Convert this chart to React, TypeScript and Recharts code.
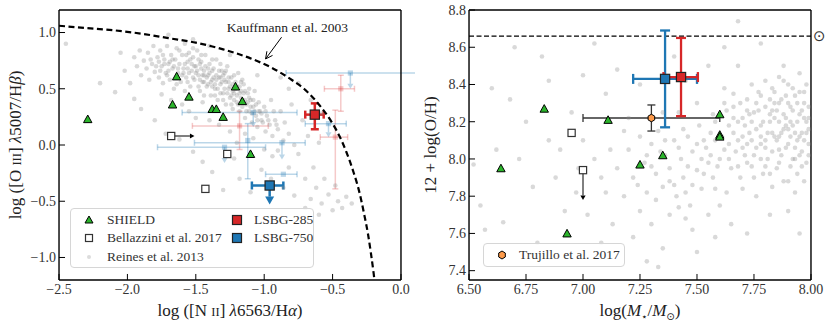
import React from 'react';
import { ScatterChart, Scatter, XAxis, YAxis, ErrorBar, ReferenceLine, Legend } from 'recharts';

const FONT = '"Liberation Serif", "DejaVu Serif", serif';
const SYM = '"DejaVu Sans", "DejaVu Serif", sans-serif';
const RED = '#d62728';
const BLUE = '#1f77b4';
const GREEN = '#2bb52b';
const ORANGE = '#fd9a4a';
const GRAYDOT = '#8c8c8c';
const FAINT_RED = 'rgba(214,39,40,0.25)';
const FAINT_BLUE = 'rgba(31,119,180,0.3)';

// ================= Left panel: BPT diagram =================
const bptXDomain = [-2.5, 0];
const bptYDomain = [-1.2, 1.2];
const bptXTicks = [-2.5, -2.0, -1.5, -1.0, -0.5, 0.0];
const bptXMinor = [-2.4, -2.3, -2.2, -2.1, -1.9, -1.8, -1.7, -1.6, -1.4, -1.3, -1.2, -1.1, -0.9, -0.8, -0.7, -0.6, -0.4, -0.3, -0.2, -0.1];
const bptYTicks = [-1.0, -0.5, 0.0, 0.5, 1.0];
const bptYMinor = [-1.1, -0.9, -0.8, -0.7, -0.6, -0.4, -0.3, -0.2, -0.1, 0.1, 0.2, 0.3, 0.4, 0.6, 0.7, 0.8, 0.9, 1.1];

const reinesBpt: number[][] = [
  [-1.95, 0.78], [-1.93, 0.70], [-1.91, 0.84], [-1.90, 0.62], [-1.88, 0.75], [-1.86, 0.68], [-1.85, 0.82], [-1.84, 0.58],
  [-1.82, 0.72], [-1.81, 0.88], [-1.80, 0.65], [-1.78, 0.78], [-1.77, 0.60], [-1.76, 0.84], [-1.75, 0.70], [-1.74, 0.55],
  [-1.73, 0.76], [-1.72, 0.64], [-1.71, 0.88], [-1.70, 0.72], [-1.69, 0.58], [-1.68, 0.80], [-1.67, 0.68], [-1.66, 0.50],
  [-1.65, 0.76], [-1.64, 0.86], [-1.63, 0.64], [-1.62, 0.72], [-1.61, 0.56], [-1.60, 0.80], [-1.59, 0.68], [-1.58, 0.90],
  [-1.57, 0.60], [-1.56, 0.74], [-1.55, 0.82], [-1.54, 0.52], [-1.53, 0.66], [-1.52, 0.78], [-1.51, 0.58], [-1.50, 0.70],
  [-1.49, 0.84], [-1.48, 0.62], [-1.47, 0.48], [-1.46, 0.74], [-1.45, 0.56], [-1.44, 0.66], [-1.43, 0.80], [-1.42, 0.52],
  [-1.41, 0.62], [-1.40, 0.72], [-1.39, 0.44], [-1.38, 0.58], [-1.37, 0.68], [-1.36, 0.50], [-1.35, 0.76], [-1.34, 0.40],
  [-1.33, 0.60], [-1.32, 0.54], [-1.31, 0.66], [-1.30, 0.46], [-1.29, 0.58], [-1.28, 0.36], [-1.27, 0.70], [-1.26, 0.50],
  [-1.25, 0.42], [-1.24, 0.60], [-1.23, 0.32], [-1.22, 0.46], [-1.21, 0.56], [-1.20, 0.38], [-1.19, 0.64], [-1.18, 0.30],
  [-1.17, 0.48], [-1.16, 0.40], [-1.15, 0.54], [-1.14, 0.24], [-1.13, 0.36], [-1.12, 0.46], [-1.11, 0.30], [-1.10, 0.40],
  [-1.09, 0.20], [-1.08, 0.34], [-1.07, 0.48], [-1.06, 0.26], [-1.05, 0.16], [-1.04, 0.38], [-1.03, 0.30], [-1.02, 0.22],
  [-1.00, 0.34], [-0.99, 0.12], [-0.98, 0.26], [-0.96, 0.18], [-0.95, 0.40], [-0.94, 0.08], [-0.92, 0.22], [-0.90, 0.14],
  [-0.88, 0.30], [-0.86, 0.04], [-0.85, 0.20], [-0.82, 0.10], [-0.80, 0.36], [-0.78, 0.00],
  [-1.83, 0.76], [-1.79, 0.70], [-1.76, 0.66], [-1.74, 0.80], [-1.71, 0.62], [-1.69, 0.74], [-1.66, 0.70], [-1.64, 0.60],
  [-1.62, 0.84], [-1.60, 0.62], [-1.58, 0.72], [-1.57, 0.80], [-1.55, 0.64], [-1.54, 0.76], [-1.52, 0.60], [-1.51, 0.70],
  [-1.49, 0.66], [-1.48, 0.76], [-1.47, 0.58], [-1.46, 0.68], [-1.45, 0.62], [-1.44, 0.56], [-1.43, 0.70], [-1.42, 0.60],
  [-1.41, 0.54], [-1.40, 0.64], [-1.39, 0.56], [-1.38, 0.66], [-1.37, 0.60], [-1.36, 0.54], [-1.35, 0.62], [-1.34, 0.50],
  [-1.33, 0.66], [-1.32, 0.46], [-1.31, 0.56], [-1.30, 0.62], [-1.29, 0.50], [-1.28, 0.56], [-1.27, 0.46], [-1.26, 0.60],
  [-1.25, 0.52], [-1.24, 0.44], [-1.23, 0.54], [-1.22, 0.40], [-1.21, 0.50], [-1.20, 0.44], [-1.19, 0.36], [-1.18, 0.52],
  [-1.17, 0.42], [-1.16, 0.34], [-1.15, 0.46], [-1.14, 0.40], [-1.13, 0.30], [-1.12, 0.38], [-1.11, 0.42], [-1.10, 0.34],
  [-1.09, 0.28], [-1.08, 0.40], [-1.07, 0.30], [-1.06, 0.36], [-1.05, 0.22], [-1.04, 0.30], [-1.02, 0.28], [-1.01, 0.20],
  [-0.99, 0.30], [-0.97, 0.22], [-0.93, 0.30], [-0.91, 0.18], [-1.70, 0.66], [-1.73, 0.72], [-1.77, 0.74], [-1.67, 0.76],
  [-1.63, 0.68], [-1.59, 0.64], [-1.56, 0.68], [-1.53, 0.72], [-1.50, 0.64], [-1.47, 0.72], [-1.44, 0.62], [-1.41, 0.68],
  [-1.38, 0.52], [-1.35, 0.58], [-1.32, 0.60], [-1.29, 0.64], [-1.26, 0.56], [-1.23, 0.48], [-1.20, 0.52], [-1.17, 0.56],
  [-1.14, 0.48], [-1.11, 0.50], [-1.44, 0.44], [-1.48, 0.52], [-1.56, 0.56], [-1.64, 0.54], [-1.58, 0.48], [-1.36, 0.44],
  [-1.30, 0.40], [-1.24, 0.36], [-1.18, 0.46], [-1.52, 0.86], [-1.46, 0.80], [-1.38, 0.76], [-1.32, 0.72], [-1.28, 0.66],
  [-1.22, 0.62], [-1.16, 0.58],
  [-1.75, 0.45], [-1.68, 0.40], [-1.60, 0.36], [-1.55, 0.30], [-1.50, 0.24], [-1.45, 0.38], [-1.40, 0.22], [-1.33, 0.18],
  [-1.25, 0.12], [-1.20, 0.02], [-1.14, 0.10], [-1.08, 0.06], [-1.00, -0.04], [-0.94, -0.10],
  [-2.45, 0.90], [-2.20, 0.55], [-2.09, 0.47], [-2.02, 0.66], [-1.98, 0.55], [-1.95, 0.41], [-1.90, 0.32], [-2.05, 0.82],
  [-1.80, 0.22], [-1.72, 0.10], [-1.62, 0.05], [-1.52, -0.06], [-1.45, -0.15], [-1.38, -0.24], [-1.30, -0.40], [-1.22, -0.12],
  [-1.18, -0.30], [-1.10, -0.42], [-1.02, -0.22], [-0.95, -0.30], [-0.90, -0.05], [-0.86, -0.38], [-0.82, -0.20], [-0.78, -0.45],
  [-0.75, -0.08], [-0.72, 0.22], [-0.70, -0.30], [-0.68, 0.08], [-0.66, -0.48], [-0.64, -0.20], [-0.62, -0.38], [-0.60, 0.02],
  [-0.58, -0.52], [-0.56, -0.30], [-0.53, -0.44], [-0.50, -0.58], [-0.48, -0.36], [-0.46, -0.50], [-0.43, -0.56], [-0.40, -0.46],
  [-0.36, -0.52], [-0.75, 0.55], [-0.82, 0.50], [-0.66, 0.40], [-0.58, 0.28], [-0.88, 0.60], [-1.05, 0.62], [-1.40, 0.88],
  [-1.52, 0.94], [-1.70, 0.98], [-1.25, 0.80], [-0.60, -0.62], [-0.70, -0.56],
];

const kauffmannX = [-2.5, -2.3, -2.1, -1.9, -1.7, -1.5, -1.3, -1.1, -0.95, -0.8, -0.7, -0.6, -0.5, -0.45, -0.4, -0.35, -0.3, -0.27, -0.24, -0.22, -0.2, -0.19];
const kauffmannY = [1.06, 1.04, 1.02, 0.99, 0.95, 0.91, 0.85, 0.77, 0.69, 0.58, 0.49, 0.36, 0.19, 0.08, -0.06, -0.23, -0.44, -0.61, -0.80, -0.96, -1.14, -1.24];

const shieldBptX = [-2.29, -1.64, -1.55, -1.67, -1.38, -1.35, -1.30, -1.21, -1.16, -1.10];
const shieldBptY = [0.23, 0.61, 0.43, 0.36, 0.32, 0.32, 0.25, 0.52, 0.39, -0.08];

const bellazziniBptX = [-1.68, -1.27, -1.43];
const bellazziniBptY = [0.08, -0.08, -0.39];
const bellazziniBptArrow = [[-1.68, 0.08], [-1.51, 0.08]];

const lsbg285Bpt = [{ x: -0.63, y: 0.27, ex: [0.07, 0.065], ey: [0.13, 0.1] }];
const lsbg750Bpt = [{ x: -0.96, y: -0.36, ex: [0.13, 0.1] }];
const lsbg750BptArrow = [[-0.96, -0.36], [-0.96, -0.53]];

const litRedBpt = [
  { x: -1.18, y: 0.17, ex: [0.345, 0.21], ey: [0.21, 0.13] },
  { x: -0.44, y: 0.50, ex: [0.12, 0.10], ey: [0.20, 0.12] },
  { x: -0.48, y: 0.07, ex: [0.11, 0.09], ey: [0.46, 0.24] },
];
const litBlueBptX = [
  { x: -0.37, y: 0.64, ex: [0.47, 0.6] },
  { x: -1.08, y: 0.29, ex: [0.52, 0.32] },
  { x: -0.53, y: 0.19, ex: [0.17, 0.13] },
  { x: -1.29, y: -0.02, ex: [0.49, 0.30] },
  { x: -0.87, y: 0.02, ex: [0.64, 0.17] },
  { x: -0.86, y: -0.26, ex: [0.13, 0.10] },
];
const litBlueBptY = [{ x: -1.12, y: 0.04, ey: [0.34, 0.15] }];
const litBlueBptArrows = [
  [[-0.37, 0.64], [-0.37, 0.50]],
  [[-1.08, 0.29], [-1.08, 0.16]],
  [[-0.53, 0.19], [-0.53, 0.07]],
  [[-1.29, -0.02], [-1.29, -0.16]],
  [[-0.87, 0.02], [-0.87, -0.13]],
];

const kauffmannLabel = [{ x: -0.83, y: 1.005 }];
const kauffmannPointer = [[-0.873, 0.958], [-0.99, 0.765]];

// ================= Right panel: mass-metallicity =================
const mzXDomain = [6.5, 8.0];
const mzYDomain = [7.35, 8.8];
const mzXTicks = [6.5, 6.75, 7.0, 7.25, 7.5, 7.75, 8.0];
const mzXMinor = [6.5625, 6.625, 6.6875, 6.8125, 6.875, 6.9375, 7.0625, 7.125, 7.1875, 7.3125, 7.375, 7.4375, 7.5625, 7.625, 7.6875, 7.8125, 7.875, 7.9375];
const mzYTicks = [7.4, 7.6, 7.8, 8.0, 8.2, 8.4, 8.6, 8.8];
const mzYMinor = [7.35, 7.45, 7.5, 7.55, 7.65, 7.7, 7.75, 7.85, 7.9, 7.95, 8.05, 8.1, 8.15, 8.25, 8.3, 8.35, 8.45, 8.5, 8.55, 8.65, 8.7, 8.75];
const solarOH = 8.66;

const reinesMz: number[][] = [
  [7.62, 8.05], [7.64, 8.18], [7.65, 7.95], [7.66, 8.28], [7.68, 8.10], [7.69, 7.90], [7.70, 8.22], [7.71, 8.02],
  [7.72, 8.32], [7.73, 8.14], [7.74, 7.96], [7.75, 8.25], [7.76, 8.06], [7.77, 8.36], [7.78, 8.18], [7.79, 7.92],
  [7.80, 8.28], [7.80, 8.10], [7.81, 8.00], [7.82, 8.20], [7.83, 8.38], [7.84, 8.12], [7.85, 7.95], [7.85, 8.26],
  [7.86, 8.05], [7.87, 8.32], [7.88, 8.16], [7.88, 7.88], [7.89, 8.22], [7.90, 8.08], [7.90, 8.40], [7.91, 8.28],
  [7.92, 8.00], [7.92, 8.18], [7.93, 8.34], [7.94, 8.10], [7.94, 7.92], [7.95, 8.24], [7.96, 8.04], [7.96, 8.14],
  [7.97, 8.36], [7.98, 8.20], [7.98, 7.98], [7.99, 8.28], [7.99, 8.08], [7.86, 8.44], [7.80, 8.42], [7.95, 8.46],
  [7.74, 8.40], [7.70, 7.84], [7.83, 7.85], [7.93, 7.82], [7.66, 8.35], [7.58, 8.20], [7.60, 8.00], [7.57, 7.90],
  [7.63, 7.82], [7.76, 7.80], [7.88, 8.50], [7.97, 7.88], [7.72, 8.08], [7.84, 8.30], [7.90, 8.16], [7.78, 8.00],
  [7.82, 8.24], [7.94, 8.30], [7.68, 8.20], [7.86, 8.20], [7.91, 8.12], [7.87, 8.02], [7.97, 8.22], [7.83, 8.14],
  [7.76, 8.30], [7.99, 8.16], [7.93, 8.06], [7.89, 8.34],
  [7.61, 8.12], [7.63, 8.26], [7.64, 8.00], [7.66, 8.14], [7.67, 8.04], [7.69, 8.30], [7.70, 8.12], [7.71, 8.18],
  [7.72, 7.98], [7.73, 8.24], [7.74, 8.10], [7.75, 8.02], [7.76, 8.16], [7.77, 8.26], [7.78, 8.08], [7.79, 8.20],
  [7.80, 7.96], [7.81, 8.14], [7.82, 8.32], [7.83, 8.04], [7.84, 8.22], [7.85, 8.10], [7.86, 8.30], [7.86, 7.98],
  [7.87, 8.14], [7.88, 8.24], [7.89, 8.06], [7.90, 8.30], [7.91, 7.96], [7.91, 8.20], [7.92, 8.26], [7.93, 8.14],
  [7.94, 8.20], [7.95, 8.02], [7.95, 8.36], [7.96, 8.26], [7.97, 8.10], [7.97, 8.30], [7.98, 8.14], [7.98, 8.40],
  [7.99, 8.02], [7.99, 8.22], [7.92, 8.38], [7.88, 8.42], [7.84, 8.36], [7.78, 8.34], [7.72, 8.26], [7.66, 8.22],
  [7.62, 8.30], [7.68, 7.96], [7.75, 7.90], [7.82, 7.92], [7.90, 7.88], [7.96, 7.96], [7.80, 8.06], [7.86, 8.12],
  [7.93, 8.00], [7.74, 8.20], [7.83, 8.26], [7.89, 8.18], [7.95, 8.12], [7.78, 8.12], [7.70, 8.06], [7.64, 8.08],
  [7.58, 8.10], [7.56, 8.02], [7.59, 7.96], [7.53, 8.10], [7.57, 8.24], [7.62, 8.38],
  [7.20, 8.05], [7.22, 7.90], [7.25, 8.12], [7.27, 7.98], [7.28, 7.82], [7.30, 8.08], [7.32, 7.92], [7.33, 8.15],
  [7.35, 7.85], [7.36, 8.02], [7.38, 7.95], [7.40, 8.10], [7.41, 7.80], [7.43, 8.00], [7.44, 7.90], [7.46, 8.12],
  [7.47, 7.75], [7.48, 8.04], [7.50, 7.94], [7.51, 8.18], [7.52, 7.84], [7.54, 8.06], [7.55, 7.98], [7.56, 8.14],
  [7.45, 7.68], [7.38, 7.70], [7.15, 7.95], [7.12, 8.05], [7.18, 7.80], [7.08, 7.90], [7.05, 8.00], [7.25, 7.72],
  [7.30, 7.65], [7.42, 8.25], [7.50, 8.30], [7.35, 8.25], [7.20, 8.22], [7.55, 7.70], [7.60, 7.75], [7.48, 7.62],
  [7.30, 7.96], [7.34, 8.04], [7.38, 7.88], [7.42, 8.06], [7.46, 7.96], [7.40, 7.86], [7.44, 8.16], [7.50, 8.08],
  [7.53, 7.92], [7.48, 7.86], [7.36, 8.10], [7.28, 8.02], [7.24, 7.86], [7.32, 7.78], [7.45, 7.82], [7.52, 8.00],
  [7.58, 7.84], [7.42, 7.74],
  [6.52, 7.97], [6.55, 7.75], [6.57, 7.62], [6.62, 8.05], [6.60, 8.38], [6.65, 7.66], [6.70, 8.60], [6.72, 8.00],
  [6.75, 8.20], [6.78, 7.85], [6.80, 7.55], [6.82, 8.55], [6.85, 8.42], [6.88, 7.90], [6.90, 8.05], [6.92, 7.72],
  [6.95, 8.25], [6.97, 7.82], [7.00, 8.45], [7.02, 7.70], [7.05, 8.62], [7.08, 7.55], [7.10, 8.35], [7.13, 7.65],
  [7.15, 8.48], [7.18, 8.15], [7.22, 7.58], [7.25, 8.40], [7.28, 7.45], [7.33, 7.42], [7.35, 7.52], [7.40, 8.55],
  [7.45, 8.42], [7.50, 7.50], [7.55, 8.50], [7.58, 7.58], [7.62, 8.60], [7.65, 7.65], [7.68, 8.50], [7.72, 7.60],
  [7.78, 8.62], [7.82, 7.70], [7.90, 7.72], [7.95, 7.60], [7.68, 8.74], [7.10, 7.82], [6.98, 7.95], [6.85, 8.10],
  [7.00, 8.10], [6.68, 8.32],
];

const shieldMzX = [6.64, 6.83, 6.93, 7.11, 7.25, 7.35, 7.60, 7.60, 7.60];
const shieldMzY = [7.95, 8.27, 7.60, 8.21, 7.97, 8.02, 8.24, 8.13, 8.12];

const bellazziniMzX = [6.95, 7.0];
const bellazziniMzY = [8.14, 7.94];
const bellazziniMzArrow = [[7.0, 7.94], [7.0, 7.78]];

const trujilloMz = [{ x: 7.30, y: 8.22, ex: [0.3, 0.3], ey: [0.07, 0.07] }];
const lsbg750Mz = [{ x: 7.36, y: 8.43, ex: [0.14, 0.14], ey: [0.26, 0.26] }];
const lsbg285Mz = [{ x: 7.43, y: 8.44, ex: [0.077, 0.074], ey: [0.21, 0.21] }];

// ================= helpers =================
const toPoints = (xs: number[], ys: number[]) => xs.map((x, i) => ({ x, y: ys[i] }));
const pairsToPoints = (pairs: number[][]) => pairs.map(([x, y]) => ({ x, y }));

const fmt1 = (v: number) => (Math.abs(v) < 1e-9 ? '0.0' : v.toFixed(1)).replace('-', '\u2212');
const fmt2 = (v: number) => v.toFixed(2);

const bottomTick = (fmt: (v: number) => string) => (p: any) => (
  <text x={p.x} y={p.y + 9.5} textAnchor="middle" fontFamily={FONT} fontSize={14} fill="#333">
    {fmt(p.payload && p.payload.value)}
  </text>
);
const leftTick = (fmt: (v: number) => string) => (p: any) => (
  <text x={p.x} y={p.y + 4.8} textAnchor="end" fontFamily={FONT} fontSize={14} fill="#333">
    {fmt(p.payload && p.payload.value)}
  </text>
);
const sunTick = (p: any) => (
  <text x={p.x} y={p.y + 4.5} textAnchor="start" fontFamily={SYM} fontSize={15} fill="#333">
    {'\u2299'}
  </text>
);

const noShape = () => <g />;

const dotShape = (p: any) => <circle cx={p.cx} cy={p.cy} r={2.3} fill={GRAYDOT} fillOpacity={0.33} />;
const triShape = (p: any) => (
  <polygon
    points={`${p.cx},${p.cy - 4.1} ${p.cx - 4.2},${p.cy + 3.5} ${p.cx + 4.2},${p.cy + 3.5}`}
    fill={GREEN} stroke="#000" strokeWidth={1} strokeLinejoin="miter"
  />
);
const squareShape = (half: number, fill: string, stroke: string, sw: number) => (p: any) => (
  <rect x={p.cx - half} y={p.cy - half} width={half * 2} height={half * 2} fill={fill} stroke={stroke} strokeWidth={sw} />
);
const hexShape = (p: any) => {
  const r = 3.8;
  const pts = [0, 1, 2, 3, 4, 5]
    .map((k) => {
      const a = (Math.PI / 3) * k - Math.PI / 2;
      return `${p.cx + r * Math.cos(a)},${p.cy + r * Math.sin(a)}`;
    })
    .join(' ');
  return <polygon points={pts} fill={ORANGE} stroke="#000" strokeWidth={1} />;
};

function arrowLine(color: string, sw: number, headLen: number, headHalf: number, filled: boolean) {
  return (props: any) => {
    const raw = (props && props.points) || [];
    const pts = raw.map((q: any) => ({ x: q.x ?? q.cx, y: q.y ?? q.cy }));
    if (pts.length < 2) return <g />;
    const a = pts[0];
    const b = pts[pts.length - 1];
    const dx = b.x - a.x;
    const dy = b.y - a.y;
    const L = Math.hypot(dx, dy) || 1;
    const ux = dx / L, uy = dy / L, nx = -uy, ny = ux;
    const bx = b.x - ux * headLen, by = b.y - uy * headLen;
    const p1 = `${bx + nx * headHalf},${by + ny * headHalf}`;
    const p2 = `${bx - nx * headHalf},${by - ny * headHalf}`;
    if (filled) {
      return (
        <g>
          <line x1={a.x} y1={a.y} x2={bx} y2={by} stroke={color} strokeWidth={sw} />
          <polygon points={`${b.x},${b.y} ${p1} ${p2}`} fill={color} stroke="none" />
        </g>
      );
    }
    return (
      <g>
        <line x1={a.x} y1={a.y} x2={b.x} y2={b.y} stroke={color} strokeWidth={sw} />
        <polyline points={`${p1} ${b.x},${b.y} ${p2}`} fill="none" stroke={color} strokeWidth={sw} />
      </g>
    );
  };
}

function arrowScatter(key: string, pair: number[][], color: string, sw: number, headLen: number, headHalf: number, filled = true) {
  return (
    <Scatter
      key={key}
      data={pairsToPoints(pair)}
      fill={color}
      line={arrowLine(color, sw, headLen, headHalf, filled)}
      shape={noShape}
      isAnimationActive={false}
    />
  );
}

function frameAxes(c: any) {
  const eps = 0.01;
  const axisLine = { stroke: '#000', strokeWidth: 1.4 };
  const major = { stroke: '#000', strokeWidth: 1 };
  const minor = { stroke: '#000', strokeWidth: 0.8 };
  const base = { type: 'number' as const, allowDataOverflow: true, interval: 0 as const };
  return [
    <XAxis key="xb" {...base} xAxisId={0} dataKey="x" domain={c.xDom} ticks={c.xTicks}
      height={eps} tickSize={-6} tickMargin={11} axisLine={axisLine} tickLine={major} tick={bottomTick(c.xFmt)} label={c.xTitle} />,
    <XAxis key="xbm" {...base} xAxisId="xbm" domain={c.xDom} ticks={c.xMinor}
      height={eps} tickSize={-3.5} tick={false} axisLine={false} tickLine={minor} />,
    <XAxis key="xt" {...base} xAxisId="xt" orientation="top" domain={c.xDom} ticks={c.xTicks}
      height={eps} tickSize={-6} tick={false} axisLine={axisLine} tickLine={major} />,
    <XAxis key="xtm" {...base} xAxisId="xtm" orientation="top" domain={c.xDom} ticks={c.xMinor}
      height={eps} tickSize={-3.5} tick={false} axisLine={false} tickLine={minor} />,
    <YAxis key="yl" {...base} yAxisId={0} dataKey="y" domain={c.yDom} ticks={c.yTicks}
      width={eps} tickSize={-6} tickMargin={9} axisLine={axisLine} tickLine={major} tick={leftTick(c.yFmt)} label={c.yTitle} />,
    <YAxis key="ylm" {...base} yAxisId="ylm" domain={c.yDom} ticks={c.yMinor}
      width={eps} tickSize={-3.5} tick={false} axisLine={false} tickLine={minor} />,
    <YAxis key="yr" {...base} yAxisId="yr" orientation="right" domain={c.yDom} ticks={c.yTicks}
      width={eps} tickSize={-6} tick={false} axisLine={axisLine} tickLine={major} />,
    <YAxis key="yrm" {...base} yAxisId="yrm" orientation="right" domain={c.yDom} ticks={c.yMinor}
      width={eps} tickSize={-3.5} tick={false} axisLine={false} tickLine={minor} />,
  ];
}

// ================= axis titles =================
const BptXTitle = (p: any) => {
  const vb = p.viewBox || { x: 59, y: 280, width: 342, height: 0 };
  return (
    <text x={vb.x + vb.width / 2} y={vb.y + 36} textAnchor="middle" fontFamily={FONT} fontSize={17} fill="#222">
      log ([N <tspan fontSize={12.5}>II</tspan>] <tspan fontStyle="italic">λ</tspan>6563/H<tspan fontStyle="italic">α</tspan>)
    </text>
  );
};
const BptYTitle = (p: any) => {
  const vb = p.viewBox || { x: 59, y: 10, width: 0, height: 270 };
  const x = vb.x - 38;
  const y = vb.y + vb.height / 2;
  return (
    <text x={x} y={y} transform={`rotate(-90 ${x} ${y})`} textAnchor="middle" fontFamily={FONT} fontSize={17} fill="#222">
      log ([O <tspan fontSize={12.5}>III</tspan>] <tspan fontStyle="italic">λ</tspan>5007/H<tspan fontStyle="italic">β</tspan>)
    </text>
  );
};
const MzXTitle = (p: any) => {
  const vb = p.viewBox || { x: 54, y: 280, width: 342, height: 0 };
  return (
    <text x={vb.x + vb.width / 2} y={vb.y + 36} textAnchor="middle" fontFamily={FONT} fontSize={17} fill="#222">
      log(<tspan fontStyle="italic">M</tspan>
      <tspan fontSize={10} dy={4} fontFamily={SYM}>⋆</tspan>
      <tspan dy={-4}>/</tspan>
      <tspan fontStyle="italic">M</tspan>
      <tspan fontSize={10} dy={4} fontFamily={SYM}>⊙</tspan>
      <tspan dy={-4}>)</tspan>
    </text>
  );
};
const MzYTitle = (p: any) => {
  const vb = p.viewBox || { x: 54, y: 10, width: 0, height: 270 };
  const x = vb.x - 33;
  const y = vb.y + vb.height / 2;
  return (
    <text x={x} y={y} transform={`rotate(-90 ${x} ${y})`} textAnchor="middle" fontFamily={FONT} fontSize={17} fill="#222">
      12 + log(O/H)
    </text>
  );
};

// ================= legends =================
const legendBox: React.CSSProperties = {
  position: 'relative',
  width: '100%',
  height: '100%',
  boxSizing: 'border-box',
  border: '1px solid #d6d6d6',
  borderRadius: 4,
  background: 'rgba(255,255,255,0.85)',
  fontFamily: FONT,
  fontSize: 13.5,
  color: '#333',
};

const LegendItem = ({ mx, ty, tx, label, marker }: any) => (
  <>
    <svg width={14} height={14} style={{ position: 'absolute', left: mx - 7, top: ty - 7, overflow: 'visible' }}>
      {marker}
    </svg>
    <span style={{ position: 'absolute', left: tx, top: ty - 9, lineHeight: '18px', whiteSpace: 'nowrap' }}>{label}</span>
  </>
);

const BptLegend = () => (
  <div style={legendBox}>
    <LegendItem mx={18} tx={36} ty={11} label="SHIELD"
      marker={<polygon points="7,3 3,10 11,10" fill={GREEN} stroke="#000" strokeWidth={1} />} />
    <LegendItem mx={18} tx={36} ty={29} label="Bellazzini et al. 2017"
      marker={<rect x={3.5} y={3.5} width={7} height={7} fill="#fff" stroke="#333" strokeWidth={1.2} />} />
    <LegendItem mx={18} tx={36} ty={48} label="Reines et al. 2013"
      marker={<circle cx={7} cy={7} r={2} fill={GRAYDOT} fillOpacity={0.3} />} />
    <LegendItem mx={166} tx={183} ty={11} label="LSBG-285"
      marker={<rect x={2.5} y={2.5} width={9} height={9} fill={RED} stroke="#222" strokeWidth={1.2} />} />
    <LegendItem mx={166} tx={183} ty={29} label="LSBG-750"
      marker={<rect x={2.5} y={2.5} width={9} height={9} fill={BLUE} stroke="#222" strokeWidth={1.2} />} />
  </div>
);

const MzLegend = () => (
  <div style={legendBox}>
    <LegendItem mx={18} tx={35} ty={11} label="Trujillo et al. 2017"
      marker={<polygon points="7,3 10.3,5 10.3,9 7,11 3.7,9 3.7,5" fill={ORANGE} stroke="#000" strokeWidth={1} />} />
  </div>
);

// ================= charts =================
const chartStyle: React.CSSProperties = { fontFamily: FONT };

const BptChart = () => (
  <ScatterChart width={415} height={329} margin={{ top: 10, right: 14, bottom: 49, left: 59 }} style={chartStyle}>
    {frameAxes({
      xDom: bptXDomain, yDom: bptYDomain, xTicks: bptXTicks, xMinor: bptXMinor, yTicks: bptYTicks, yMinor: bptYMinor,
      xFmt: fmt1, yFmt: fmt1, xTitle: <BptXTitle />, yTitle: <BptYTitle />,
    })}
    <Scatter data={pairsToPoints(reinesBpt)} fill={GRAYDOT} shape={dotShape} isAnimationActive={false} />

    <Scatter data={litRedBpt} fill={FAINT_RED} shape={squareShape(2.6, FAINT_RED, 'none', 0)} isAnimationActive={false}>
      <ErrorBar dataKey="ex" direction="x" stroke={FAINT_RED} strokeWidth={1.5} width={3} />
      <ErrorBar dataKey="ey" direction="y" stroke={FAINT_RED} strokeWidth={1.5} width={3} />
    </Scatter>
    <Scatter data={litBlueBptX} fill={FAINT_BLUE} shape={squareShape(2.6, FAINT_BLUE, 'none', 0)} isAnimationActive={false}>
      <ErrorBar dataKey="ex" direction="x" stroke={FAINT_BLUE} strokeWidth={1.5} width={3} />
    </Scatter>
    <Scatter data={litBlueBptY} fill={FAINT_BLUE} shape={squareShape(2.6, FAINT_BLUE, 'none', 0)} isAnimationActive={false}>
      <ErrorBar dataKey="ey" direction="y" stroke={FAINT_BLUE} strokeWidth={1.5} width={3} />
    </Scatter>
    {litBlueBptArrows.map((a, i) => arrowScatter(`lba${i}`, a, FAINT_BLUE, 1.5, 5, 3))}

    <Scatter
      data={toPoints(kauffmannX, kauffmannY)}
      fill="#000"
      line={{ stroke: '#000', strokeWidth: 2.2, strokeDasharray: '6 3.5' }}
      lineJointType="monotoneX"
      shape={noShape}
      isAnimationActive={false}
    />
    <Scatter
      data={kauffmannLabel}
      fill="#222"
      shape={(p: any) => (
        <text x={p.cx} y={p.cy} textAnchor="middle" fontFamily={FONT} fontSize={13.5} fill="#222">
          Kauffmann et al. 2003
        </text>
      )}
      isAnimationActive={false}
    />
    {arrowScatter('kptr', kauffmannPointer, '#000', 1, 7, 3.5, false)}

    <Scatter data={toPoints(shieldBptX, shieldBptY)} fill={GREEN} shape={triShape} isAnimationActive={false} />
    {arrowScatter('bba', bellazziniBptArrow, '#000', 1, 4.5, 2.6)}
    <Scatter data={toPoints(bellazziniBptX, bellazziniBptY)} fill="#fff" shape={squareShape(3.6, '#fff', '#333', 1.2)} isAnimationActive={false} />

    {arrowScatter('l750a', lsbg750BptArrow, BLUE, 2.5, 8, 4.5)}
    <Scatter data={lsbg750Bpt} fill={BLUE} shape={squareShape(4.6, BLUE, '#222', 1.2)} isAnimationActive={false}>
      <ErrorBar dataKey="ex" direction="x" stroke={BLUE} strokeWidth={2.5} width={4} />
    </Scatter>
    <Scatter data={lsbg285Bpt} fill={RED} shape={squareShape(4.6, RED, '#222', 1.2)} isAnimationActive={false}>
      <ErrorBar dataKey="ex" direction="x" stroke={RED} strokeWidth={2.5} width={4} />
      <ErrorBar dataKey="ey" direction="y" stroke={RED} strokeWidth={2.5} width={4} />
    </Scatter>

    <Legend
      layout="horizontal"
      verticalAlign="middle"
      align="center"
      wrapperStyle={{ left: 70, top: 208, width: 244, height: 60 }}
      content={() => <BptLegend />}
    />
  </ScatterChart>
);

const MzChart = () => (
  <ScatterChart width={415} height={329} margin={{ top: 10, right: 19, bottom: 49, left: 54 }} style={chartStyle}>
    {frameAxes({
      xDom: mzXDomain, yDom: mzYDomain, xTicks: mzXTicks, xMinor: mzXMinor, yTicks: mzYTicks, yMinor: mzYMinor,
      xFmt: fmt2, yFmt: fmt1, xTitle: <MzXTitle />, yTitle: <MzYTitle />,
    })}
    <YAxis
      yAxisId="sun"
      orientation="right"
      type="number"
      domain={mzYDomain}
      allowDataOverflow
      ticks={[solarOH]}
      interval={0}
      width={0.01}
      tickSize={0}
      tickMargin={2}
      tickLine={false}
      axisLine={false}
      tick={sunTick}
    />
    <Scatter data={pairsToPoints(reinesMz)} fill={GRAYDOT} shape={dotShape} isAnimationActive={false} />
    <ReferenceLine y={solarOH} stroke="#000" strokeWidth={1.4} strokeDasharray="5 2.5" />

    <Scatter data={toPoints(shieldMzX, shieldMzY)} fill={GREEN} shape={triShape} isAnimationActive={false} />
    {arrowScatter('bma', bellazziniMzArrow, '#000', 1, 4.5, 2.6)}
    <Scatter data={toPoints(bellazziniMzX, bellazziniMzY)} fill="#fff" shape={squareShape(3.6, '#fff', '#333', 1.2)} isAnimationActive={false} />

    <Scatter data={trujilloMz} fill={ORANGE} shape={hexShape} isAnimationActive={false}>
      <ErrorBar dataKey="ex" direction="x" stroke="#333" strokeWidth={1.3} width={4} />
      <ErrorBar dataKey="ey" direction="y" stroke="#333" strokeWidth={1.3} width={4} />
    </Scatter>
    <Scatter data={lsbg750Mz} fill={BLUE} shape={squareShape(4.6, BLUE, '#222', 1.2)} isAnimationActive={false}>
      <ErrorBar dataKey="ex" direction="x" stroke={BLUE} strokeWidth={2.3} width={5} />
      <ErrorBar dataKey="ey" direction="y" stroke={BLUE} strokeWidth={2.3} width={5} />
    </Scatter>
    <Scatter data={lsbg285Mz} fill={RED} shape={squareShape(4.6, RED, '#222', 1.2)} isAnimationActive={false}>
      <ErrorBar dataKey="ex" direction="x" stroke={RED} strokeWidth={2.3} width={5} />
      <ErrorBar dataKey="ey" direction="y" stroke={RED} strokeWidth={2.3} width={5} />
    </Scatter>

    <Legend
      layout="horizontal"
      verticalAlign="middle"
      align="center"
      wrapperStyle={{ left: 68, top: 243, width: 142, height: 24 }}
      content={() => <MzLegend />}
    />
  </ScatterChart>
);

export default function App() {
  return (
    <div style={{ position: 'absolute', left: 0, top: 0, width: 830, height: 329, background: '#fff', overflow: 'hidden', fontFamily: FONT }}>
      <div style={{ position: 'absolute', left: 0, top: 0 }}>
        <BptChart />
      </div>
      <div style={{ position: 'absolute', left: 415, top: 0 }}>
        <MzChart />
      </div>
    </div>
  );
}
